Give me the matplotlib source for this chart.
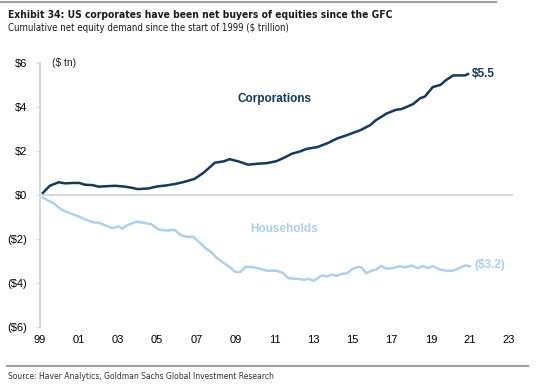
import numpy as np
import matplotlib.pyplot as plt
from matplotlib.lines import Line2D

plt.rcParams['font.family'] = ['Liberation Sans', 'DejaVu Sans']

corp_years = [1999.15, 1999.5, 1999.95, 2000.3, 2000.7, 2001.0, 2001.3, 2001.7, 2002.0,
              2002.4, 2002.85, 2003.35, 2003.7, 2004.0, 2004.55, 2005.0, 2005.4, 2005.9,
              2006.3, 2006.9, 2007.35, 2007.7, 2007.95, 2008.4, 2008.7, 2009.15, 2009.65,
              2010.1, 2010.6, 2011.1, 2011.5, 2011.9, 2012.3, 2012.65, 2013.2, 2013.75,
              2014.2, 2014.7, 2015.4, 2015.9, 2016.2, 2016.75, 2017.2, 2017.5, 2017.8,
              2018.1, 2018.45, 2018.7, 2019.1, 2019.5, 2019.8, 2020.15, 2020.75, 2020.9]
corp_values = [0.1, 0.42, 0.58, 0.53, 0.55, 0.55, 0.47, 0.45, 0.38,
               0.40, 0.42, 0.38, 0.33, 0.27, 0.30, 0.39, 0.43, 0.50,
               0.58, 0.73, 1.0, 1.27, 1.47, 1.53, 1.63, 1.53, 1.38,
               1.42, 1.45, 1.54, 1.70, 1.88, 1.98, 2.10, 2.18, 2.37,
               2.57, 2.72, 2.95, 3.18, 3.41, 3.71, 3.87, 3.91, 4.02,
               4.14, 4.40, 4.48, 4.91, 5.01, 5.24, 5.44, 5.44, 5.5]

hh_years = [1999.15, 1999.7, 2000.1, 2000.45, 2001.0, 2001.3, 2001.7, 2002.0, 2002.3,
            2002.7, 2003.0, 2003.2, 2003.5, 2003.95, 2004.3, 2004.7, 2005.05, 2005.4,
            2005.9, 2006.2, 2006.5, 2006.85, 2007.1, 2007.45, 2007.7, 2008.05, 2008.4,
            2008.7, 2009.0, 2009.25, 2009.5, 2009.85, 2010.25, 2010.6, 2011.1, 2011.45,
            2011.7, 2012.15, 2012.5, 2012.75, 2013.0, 2013.4, 2013.7, 2013.9, 2014.2,
            2014.45, 2014.7, 2015.0, 2015.3, 2015.45, 2015.7, 2016.0, 2016.2, 2016.45,
            2016.75, 2017.1, 2017.4, 2017.7, 2018.0, 2018.35, 2018.6, 2018.85, 2019.1,
            2019.45, 2019.8, 2020.15, 2020.4, 2020.75, 2021.0]
hh_values = [-0.12, -0.38, -0.66, -0.80, -0.98, -1.10, -1.24, -1.26, -1.36,
             -1.51, -1.42, -1.53, -1.36, -1.21, -1.26, -1.33, -1.56, -1.61,
             -1.59, -1.82, -1.90, -1.90, -2.10, -2.40, -2.55, -2.86, -3.09,
             -3.27, -3.50, -3.50, -3.27, -3.27, -3.35, -3.44, -3.44, -3.55,
             -3.78, -3.81, -3.85, -3.81, -3.90, -3.66, -3.70, -3.62, -3.67,
             -3.58, -3.56, -3.35, -3.27, -3.29, -3.55, -3.43, -3.39, -3.23,
             -3.35, -3.32, -3.24, -3.29, -3.21, -3.32, -3.23, -3.32, -3.23,
             -3.39, -3.44, -3.44, -3.35, -3.20, -3.24]

y_ticks = [6, 4, 2, 0, -2, -4, -6]
y_labels = ['$6', '$4', '$2', '$0', '($2)', '($4)', '($6)']
x_ticks = list(range(1999, 2024, 2))
x_labels = ['99', '01', '03', '05', '07', '09', '11', '13', '15', '17', '19', '21', '23']

navy = '#0e3a63'
light = '#a9d1f2'
narrow = dict(family='DejaVu Sans', fontstretch='condensed')

fig = plt.figure(figsize=(5.57, 3.91), dpi=100)
ax = fig.add_axes([0.0718, 0.1637, 0.849, 0.675])

ax.axhline(0, color='#d9d9d9', lw=1.5, zorder=1)
ax.plot(corp_years, corp_values, color=navy, lw=1.8, zorder=3)
ax.plot(hh_years, hh_values, color=light, lw=1.8, zorder=3)

ax.set_xlim(1999, 2023.2)
ax.set_ylim(-6, 6)
ax.set_yticks(y_ticks)
ax.set_yticklabels(y_labels)
ax.set_xticks(x_ticks)
ax.set_xticklabels(x_labels)

for s in ['top', 'right', 'bottom']:
    ax.spines[s].set_visible(False)
ax.spines['left'].set_color('#d9d9d9')
ax.spines['left'].set_linewidth(1.5)
ax.tick_params(axis='y', length=3, width=1, color='#d9d9d9', labelsize=8, pad=6)
ax.tick_params(axis='x', length=0, labelsize=8, pad=6)

ax.text(2011.0, 4.36, 'Corporations', color=navy, fontsize=8.5, fontweight='bold',
        ha='center', va='center')
ax.text(2011.5, -1.56, 'Households', color=light, fontsize=8.5, fontweight='bold',
        ha='center', va='center')
ax.text(2021.1, 5.5, '$5.5', color=navy, fontsize=8.5, fontweight='bold', va='center')
ax.text(2021.25, -3.18, '($3.2)', color=light, fontsize=8.5, fontweight='bold', va='center')
ax.text(1999.6, 6.0, '($ tn)', fontsize=7.5, va='center', color='#222222')

# header, separator lines and source
fig.add_artist(Line2D([0, 0.89], [0.995, 0.995], color='#a0a0a0', lw=1.5))
fig.text(0.014, 0.962, 'Exhibit 34: US corporates have been net buyers of equities since the GFC',
         fontsize=7.4, fontweight='bold', va='center', color='#1a1a1a', **narrow)
fig.text(0.014, 0.928, 'Cumulative net equity demand since the start of 1999 ($ trillion)',
         fontsize=6.9, va='center', color='#1a1a1a', **narrow)
fig.add_artist(Line2D([0.013, 0.948], [0.064, 0.064], color='#a0a0a0', lw=1.5))
fig.text(0.014, 0.036, 'Source: Haver Analytics, Goldman Sachs Global Investment Research',
         fontsize=6.1, va='center', color='#333333', **narrow)

plt.savefig('out.png', dpi=100)
